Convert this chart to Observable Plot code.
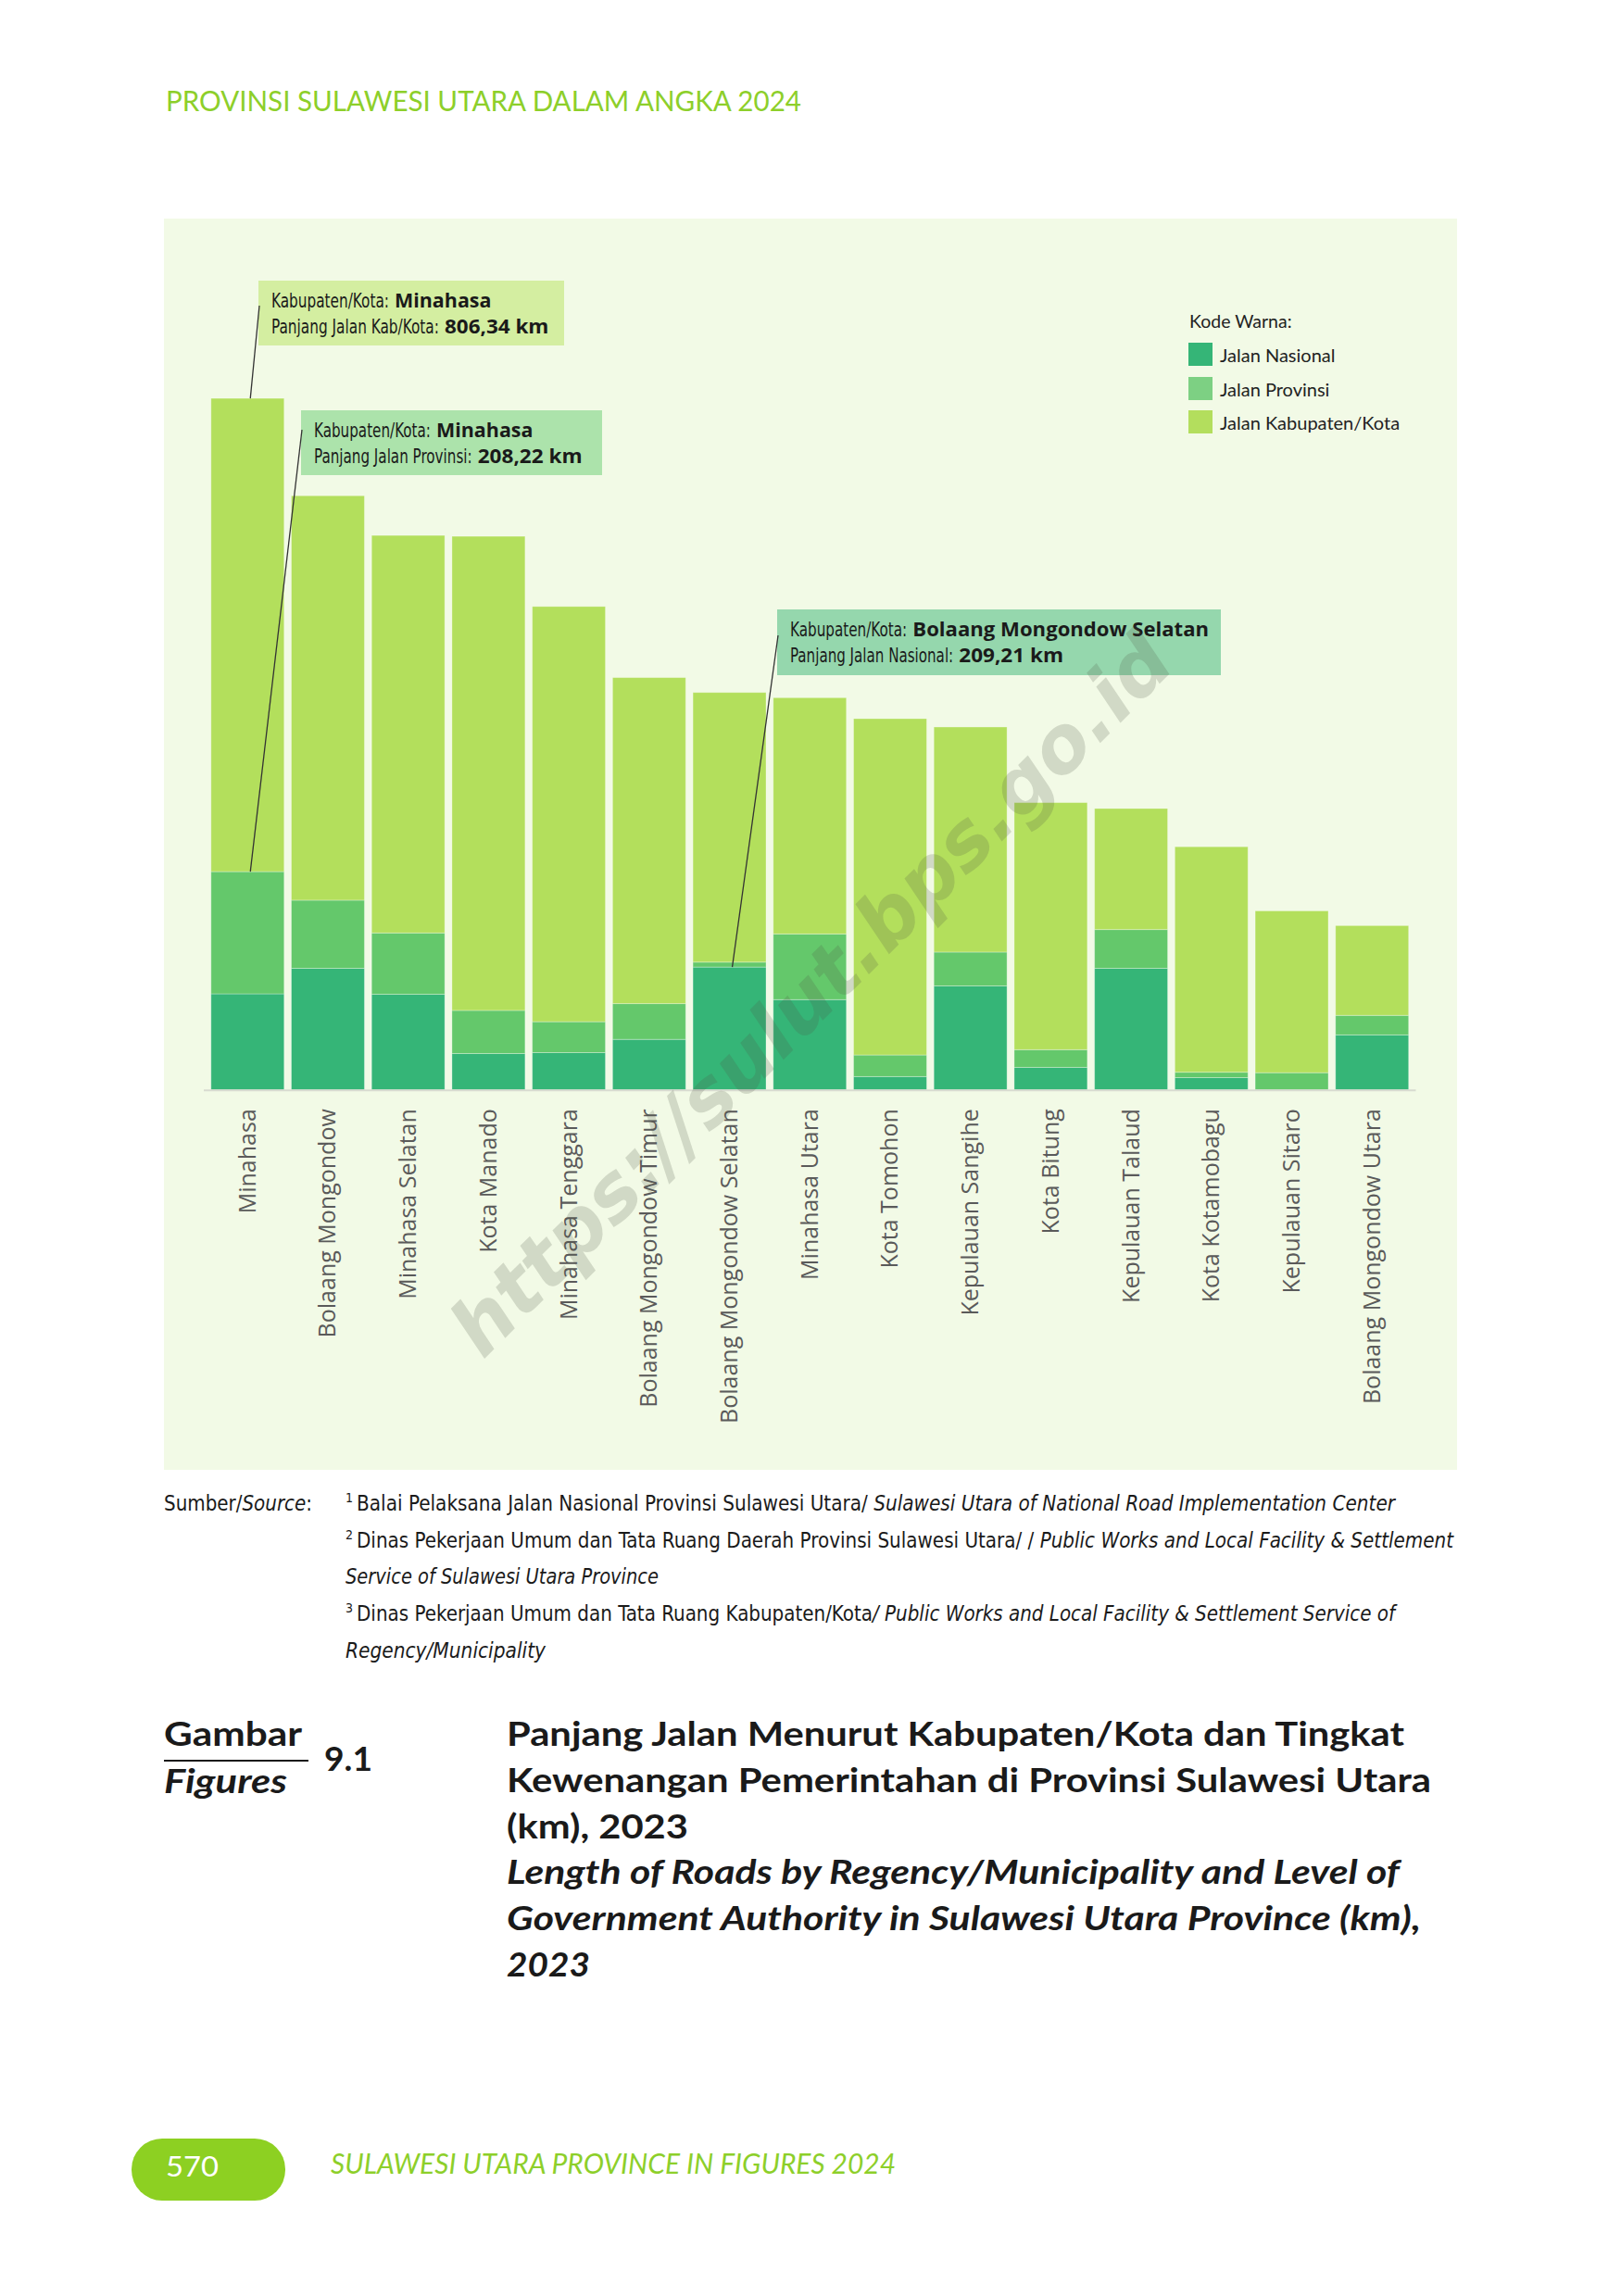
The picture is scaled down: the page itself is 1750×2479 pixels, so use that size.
<!DOCTYPE html>
<html>
<head>
<meta charset="utf-8">
<script src="https://cdn.jsdelivr.net/npm/d3@7"></script>
<script src="https://cdn.jsdelivr.net/npm/@observablehq/plot@0.6"></script>
<style>
  html, body { margin: 0; padding: 0; background: #ffffff; }
  #page { position: relative; width: 1750px; height: 2479px; overflow: hidden; background: #ffffff; }
  #chart { position: absolute; left: 177px; top: 236px; }
  #overlay { position: absolute; left: 0; top: 0; pointer-events: none; }
</style>
</head>
<body>
<div id="page">
  <div id="chart"></div>
</div>
<script>
// ---------------- DATA ----------------
const regions = [
  "Minahasa", "Bolaang Mongondow", "Minahasa Selatan", "Kota Manado", "Minahasa Tenggara",
  "Bolaang Mongondow Timur", "Bolaang Mongondow Selatan", "Minahasa Utara", "Kota Tomohon",
  "Kepulauan Sangihe", "Kota Bitung", "Kepulauan Talaud", "Kota Kotamobagu", "Kepulauan Sitaro",
  "Bolaang Mongondow Utara"
];
const nasional  = [163.6, 207.0, 162.8, 61.9, 63.4, 86.0, 209.21, 153.7, 22.6, 177.1, 38.3, 207.0, 20.8, 0, 93.6];
const provinsi  = [208.22, 116.1, 104.5, 73.4, 52.7, 60.9, 8.4, 111.9, 36.8, 57.6, 30.1, 66.1, 9.2, 29.2, 33.3];
const kabupaten = [806.34, 689.1, 677.3, 807.8, 707.4, 555.5, 459.4, 402.5, 573.0, 383.5, 421.0, 206.2, 384.2, 275.7, 152.9];

const seriesNames  = ["Jalan Nasional", "Jalan Provinsi", "Jalan Kabupaten/Kota"];
const seriesColors = ["#35b577", "#64c86b", "#b3df5c"];
const legendColors = ["#35b577", "#7dd083", "#b3de5d"];

// ---------------- CHART ----------------
const rows = regions.flatMap((r, i) => [
  { region: r, jenis: seriesNames[0], km: nasional[i] },
  { region: r, jenis: seriesNames[1], km: provinsi[i] },
  { region: r, jenis: seriesNames[2], km: kabupaten[i] }
]).filter(d => d.km > 0);

const W = 1396, H = 1351, OX = 177, OY = 236;

const plot = Plot.plot({
  width: W,
  height: H,
  marginLeft: 43,
  marginRight: 44.5,
  marginTop: 53.5,
  marginBottom: 410.3,
  style: { background: "#f2fae6", fontFamily: "'Open Sans', sans-serif", overflow: "visible" },
  x: { domain: regions, padding: 0.09, round: false, label: null },
  y: { domain: [0, 1400], axis: null },
  color: { domain: seriesNames, range: seriesColors },
  marks: [
    Plot.barY(rows, { x: "region", y: "km", fill: "jenis", stroke: "#ffffff", strokeOpacity: 0.3, strokeWidth: 1 }),
    Plot.ruleY([0], { stroke: "#d8dbd0", strokeWidth: 2 }),
    Plot.axisX({ tickRotate: -90, tickSize: 0, tickPadding: 20, fontSize: 25, fill: "#5a5a5a", label: null })
  ]
});
document.getElementById("chart").appendChild(plot);

// ---------------- OVERLAY (texts, legend, annotations) ----------------
const NS = "http://www.w3.org/2000/svg";
const svg = document.createElementNS(NS, "svg");
svg.setAttribute("id", "overlay");
svg.setAttribute("width", 1750);
svg.setAttribute("height", 2479);
document.getElementById("page").appendChild(svg);

function el(tag, attrs, parent = svg) {
  const e = document.createElementNS(NS, tag);
  for (const k in attrs) e.setAttribute(k, attrs[k]);
  parent.appendChild(e);
  return e;
}
function textLine(x, y, segments, attrs) {
  const t = el("text", Object.assign({ x, y }, attrs));
  for (const s of segments) {
    const ts = el("tspan", {}, t);
    if (s.italic) ts.setAttribute("font-style", "italic");
    if (s.bold) ts.setAttribute("font-weight", "700");
    if (s.family) ts.setAttribute("font-family", s.family);
    if (s.size) ts.setAttribute("font-size", s.size);
    ts.textContent = s.t;
  }
  return t;
}
// text squeezed horizontally (via transform) to a measured target width
function fitText(x, y, str, width, attrs) {
  const t = el("text", Object.assign({ x: 0, y: 0 }, attrs));
  t.textContent = str;
  const natural = t.getComputedTextLength() || width;
  t.setAttribute("transform", `translate(${x},${y}) scale(${width / natural},1)`);
  return t;
}

const LATO = "Lato, 'Open Sans', sans-serif";
const NARROW = "'Liberation Sans Narrow', 'DejaVu Sans Condensed', 'Liberation Sans', sans-serif";
const BOLDF = "'Open Sans', 'Noto Sans', sans-serif";

// Header
textLine(179, 119.5, [{ t: "PROVINSI SULAWESI UTARA DALAM ANGKA 2024" }],
  { "font-family": LATO, "font-size": 30, fill: "#8dcf2a", textLength: 686, lengthAdjust: "spacingAndGlyphs" });

// Annotations: boxes, texts, leader lines ending at data-derived bar positions
const xs = plot.scale("x"), ys = plot.scale("y");
const iMin = regions.indexOf("Minahasa");
const iBms = regions.indexOf("Bolaang Mongondow Selatan");
function barPoint(region, value) {
  return [OX + xs.apply(region) + xs.bandwidth / 2 + 3, OY + ys.apply(value)];
}
const annotations = [
  { rect: [279, 303, 330, 70], fill: "#d4eea1",
    l1: [["Kabupaten/Kota:", 127], ["Minahasa", 104.5]],
    l2: [["Panjang Jalan Kab/Kota:", 181], ["806,34 km", 112.5]],
    from: [280, 330], to: barPoint("Minahasa", nasional[iMin] + provinsi[iMin] + kabupaten[iMin]) },
  { rect: [325, 443, 325, 70], fill: "#ace3ab",
    l1: [["Kabupaten/Kota:", 126], ["Minahasa", 104.5]],
    l2: [["Panjang Jalan Provinsi:", 170.7], ["208,22 km", 113]],
    from: [326, 464], to: barPoint("Minahasa", nasional[iMin] + provinsi[iMin]) },
  { rect: [839, 658, 479, 71], fill: "#95d7ad",
    l1: [["Kabupaten/Kota:", 126.3], ["Bolaang Mongondow Selatan", 320]],
    l2: [["Panjang Jalan Nasional:", 176.3], ["209,21 km", 112.8]],
    from: [840, 686], to: barPoint("Bolaang Mongondow Selatan", nasional[iBms]) }
];
for (const a of annotations) {
  el("rect", { x: a.rect[0], y: a.rect[1], width: a.rect[2], height: a.rect[3], fill: a.fill });
  const tx = a.rect[0] + 14, ty = a.rect[1];
  [[a.l1, ty + 29], [a.l2, ty + 57]].forEach(([segs, by]) => {
    const [reg, bold] = segs;
    fitText(tx, by, reg[0], reg[1], { "font-family": NARROW, "font-size": 22, fill: "#1a1a1a" });
    fitText(tx + reg[1] + 6, by, bold[0], bold[1], { "font-family": BOLDF, "font-size": 22, "font-weight": 700, fill: "#1a1a1a" });
  });
}
for (const a of annotations) {
  el("line", { x1: a.from[0], y1: a.from[1], x2: a.to[0], y2: a.to[1], stroke: "#333333", "stroke-width": 1.3 });
}

// Legend
textLine(1284, 354, [{ t: "Kode Warna:" }], { "font-family": LATO, "font-size": 19.5, fill: "#222222" });
const legendY = [370, 407, 443];
const legendBase = [391, 428, 464];
seriesNames.forEach((s, i) => {
  el("rect", { x: 1283, y: legendY[i], width: 26, height: 25, fill: legendColors[i] });
  textLine(1317, legendBase[i], [{ t: s }], { "font-family": LATO, "font-size": 20, fill: "#222222" });
});

// Source block
const SRC = { "font-family": NARROW, "font-size": 23, fill: "#1a1a1a" };
textLine(177, 1631, [{ t: "Sumber/" }, { t: "Source", italic: true }, { t: ":" }],
  Object.assign({ textLength: 160, lengthAdjust: "spacingAndGlyphs" }, SRC));
const sources = [
  { sup: "1", y: 1631, x1: 1506, segs: [{ t: "Balai Pelaksana Jalan Nasional Provinsi Sulawesi Utara/ " }, { t: "Sulawesi Utara of National Road Implementation Center", italic: true }] },
  { sup: "2", y: 1671, x1: 1569, segs: [{ t: "Dinas Pekerjaan Umum dan Tata Ruang Daerah Provinsi Sulawesi Utara/ / " }, { t: "Public Works and Local Facility & Settlement", italic: true }] },
  { sup: null, y: 1710, x1: 711, segs: [{ t: "Service of Sulawesi Utara Province", italic: true }] },
  { sup: "3", y: 1750, x1: 1506, segs: [{ t: "Dinas Pekerjaan Umum dan Tata Ruang Kabupaten/Kota" }, { t: "/ Public Works and Local Facility & Settlement Service of", italic: true }] },
  { sup: null, y: 1790, x1: 589, segs: [{ t: "Regency/Municipality", italic: true }] }
];
for (const s of sources) {
  let x0 = 373;
  if (s.sup) {
    textLine(373, s.y - 9, [{ t: s.sup }], { "font-family": NARROW, "font-size": 14, fill: "#1a1a1a" });
    x0 = 385;
  }
  textLine(x0, s.y, s.segs, Object.assign({ textLength: s.x1 - x0, lengthAdjust: "spacingAndGlyphs" }, SRC));
}

// Figure title block
const TT = { "font-family": LATO, "font-size": 36, "font-weight": 700, fill: "#1a1a1a", lengthAdjust: "spacingAndGlyphs" };
textLine(177, 1885, [{ t: "Gambar" }], Object.assign({ textLength: 149 }, TT));
el("line", { x1: 177, y1: 1901, x2: 333, y2: 1901, stroke: "#1a1a1a", "stroke-width": 2 });
textLine(177, 1936, [{ t: "Figures", italic: true }], Object.assign({ textLength: 133 }, TT));
textLine(350, 1912, [{ t: "9.1" }], Object.assign({ textLength: 52 }, TT));
const titleLines = [
  { t: "Panjang Jalan Menurut Kabupaten/Kota dan Tingkat", w: 969, it: false },
  { t: "Kewenangan Pemerintahan di Provinsi Sulawesi Utara", w: 998, it: false },
  { t: "(km), 2023", w: 196, it: false },
  { t: "Length of Roads by Regency/Municipality and Level of", w: 964, it: true },
  { t: "Government Authority in Sulawesi Utara Province (km),", w: 987, it: true },
  { t: "2023", w: 90, it: true }
];
titleLines.forEach((l, i) => {
  textLine(547, 1885 + i * 49.8, [{ t: l.t, italic: l.it }], Object.assign({ textLength: l.w }, TT));
});

// Footer
el("rect", { x: 142, y: 2309, width: 166, height: 67, rx: 33, ry: 33, fill: "#8dd022" });
textLine(179, 2350, [{ t: "570" }], { "font-family": LATO, "font-size": 31, fill: "#ffffff", textLength: 57, lengthAdjust: "spacingAndGlyphs" });
textLine(357, 2347, [{ t: "SULAWESI UTARA PROVINCE IN FIGURES 2024", italic: true }],
  { "font-family": LATO, "font-size": 31, fill: "#8dcf2a", textLength: 610, lengthAdjust: "spacingAndGlyphs" });

// Watermark
textLine(0, 0, [{ t: "https://sulut.bps.go.id" }], {
  "font-family": "'DejaVu Sans', sans-serif", "font-size": 84, "font-weight": 700, "font-style": "italic",
  fill: "#4f5545", "fill-opacity": 0.2, "text-anchor": "middle",
  textLength: 1060, lengthAdjust: "spacingAndGlyphs",
  transform: "translate(896,1094) rotate(-45)"
});
</script>
</body>
</html>
